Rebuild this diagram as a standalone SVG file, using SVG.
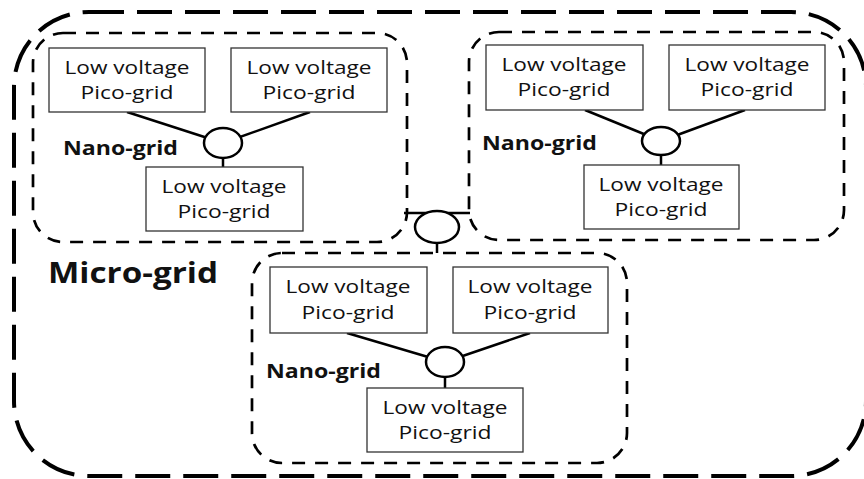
<svg xmlns="http://www.w3.org/2000/svg" width="864" height="479" viewBox="0 0 864 479">
<style>
.outer{fill:none;stroke:#000;stroke-width:4;stroke-dasharray:35 13}
.nano{fill:none;stroke:#000;stroke-width:2.7;stroke-dasharray:13 10}
.pico{fill:#fff;stroke:#333;stroke-width:1.3}
.t{font-family:"Open Sans","Noto Sans",sans-serif;font-size:18.5px;fill:#111;text-anchor:middle}
.nl{font-family:"Open Sans","Noto Sans",sans-serif;font-size:19px;font-weight:bold;fill:#111}
.ml{font-family:"Open Sans","Noto Sans",sans-serif;font-size:28px;font-weight:bold;fill:#111}
.c{stroke:#000;stroke-width:2.5;fill:none}
.hub{fill:#fff;stroke:#000;stroke-width:2.5}
</style>
<rect width="864" height="479" fill="#fff"/>
<g id="micro-grid">
<rect class="outer" x="14" y="12" width="852" height="464" rx="75"/>
<text class="ml" x="48" y="283" textLength="170" lengthAdjust="spacingAndGlyphs">Micro-grid</text>
</g>
<g id="nano-grid-1">
<rect class="nano" x="33" y="33" width="374" height="209" rx="30"/>
<text class="nl" x="63" y="155" textLength="115" lengthAdjust="spacingAndGlyphs">Nano-grid</text>
</g>
<g id="nano-grid-2">
<rect class="nano" x="469" y="32" width="375" height="208" rx="30"/>
<text class="nl" x="482" y="150" textLength="115" lengthAdjust="spacingAndGlyphs">Nano-grid</text>
</g>
<g id="nano-grid-3">
<rect class="nano" x="252" y="253" width="375" height="210" rx="30"/>
<text class="nl" x="266" y="378" textLength="115" lengthAdjust="spacingAndGlyphs">Nano-grid</text>
</g>
<g id="connectors">
<line class="c" x1="127" y1="112" x2="223" y2="143"/>
<line class="c" x1="310" y1="112" x2="223" y2="143"/>
<line class="c" x1="223" y1="143" x2="223" y2="167"/>
<line class="c" x1="585" y1="110" x2="661" y2="141"/>
<line class="c" x1="745" y1="110" x2="661" y2="141"/>
<line class="c" x1="661" y1="141" x2="661" y2="165"/>
<line class="c" x1="347" y1="333" x2="445" y2="362"/>
<line class="c" x1="530" y1="333" x2="445" y2="362"/>
<line class="c" x1="445" y1="362" x2="445" y2="388"/>
<line class="c" x1="404" y1="213" x2="470" y2="213"/>
<line class="c" x1="437" y1="227" x2="437" y2="253"/>
</g>
<g id="hub-1"><ellipse class="hub" cx="223" cy="143" rx="19" ry="15"/></g>
<g id="hub-2"><ellipse class="hub" cx="661" cy="141" rx="19" ry="14"/></g>
<g id="hub-3"><ellipse class="hub" cx="445" cy="362" rx="19" ry="15"/></g>
<g id="hub-0"><ellipse class="hub" cx="437" cy="227" rx="22" ry="16"/></g>
<g id="pico-1a"><rect class="pico" x="49" y="48" width="156" height="64"/>
<text class="t" x="127" y="74" textLength="125" lengthAdjust="spacingAndGlyphs">Low voltage</text><text class="t" x="127" y="99" textLength="93" lengthAdjust="spacingAndGlyphs">Pico-grid</text></g>
<g id="pico-1b"><rect class="pico" x="231" y="48" width="156" height="64"/>
<text class="t" x="309" y="74" textLength="125" lengthAdjust="spacingAndGlyphs">Low voltage</text><text class="t" x="309" y="99" textLength="93" lengthAdjust="spacingAndGlyphs">Pico-grid</text></g>
<g id="pico-1c"><rect class="pico" x="146" y="167" width="157" height="64"/>
<text class="t" x="224" y="193" textLength="125" lengthAdjust="spacingAndGlyphs">Low voltage</text><text class="t" x="224" y="218" textLength="93" lengthAdjust="spacingAndGlyphs">Pico-grid</text></g>
<g id="pico-2a"><rect class="pico" x="486" y="45" width="157" height="65"/>
<text class="t" x="564" y="71" textLength="125" lengthAdjust="spacingAndGlyphs">Low voltage</text><text class="t" x="564" y="96" textLength="93" lengthAdjust="spacingAndGlyphs">Pico-grid</text></g>
<g id="pico-2b"><rect class="pico" x="669" y="45" width="156" height="65"/>
<text class="t" x="747" y="71" textLength="125" lengthAdjust="spacingAndGlyphs">Low voltage</text><text class="t" x="747" y="96" textLength="93" lengthAdjust="spacingAndGlyphs">Pico-grid</text></g>
<g id="pico-2c"><rect class="pico" x="584" y="165" width="155" height="64"/>
<text class="t" x="661" y="191" textLength="125" lengthAdjust="spacingAndGlyphs">Low voltage</text><text class="t" x="661" y="216" textLength="93" lengthAdjust="spacingAndGlyphs">Pico-grid</text></g>
<g id="pico-3a"><rect class="pico" x="270" y="267" width="157" height="66"/>
<text class="t" x="348" y="293" textLength="125" lengthAdjust="spacingAndGlyphs">Low voltage</text><text class="t" x="348" y="319" textLength="93" lengthAdjust="spacingAndGlyphs">Pico-grid</text></g>
<g id="pico-3b"><rect class="pico" x="453" y="267" width="155" height="66"/>
<text class="t" x="530" y="293" textLength="125" lengthAdjust="spacingAndGlyphs">Low voltage</text><text class="t" x="530" y="319" textLength="93" lengthAdjust="spacingAndGlyphs">Pico-grid</text></g>
<g id="pico-3c"><rect class="pico" x="367" y="388" width="156" height="64"/>
<text class="t" x="445" y="414" textLength="125" lengthAdjust="spacingAndGlyphs">Low voltage</text><text class="t" x="445" y="439" textLength="93" lengthAdjust="spacingAndGlyphs">Pico-grid</text></g>
</svg>
